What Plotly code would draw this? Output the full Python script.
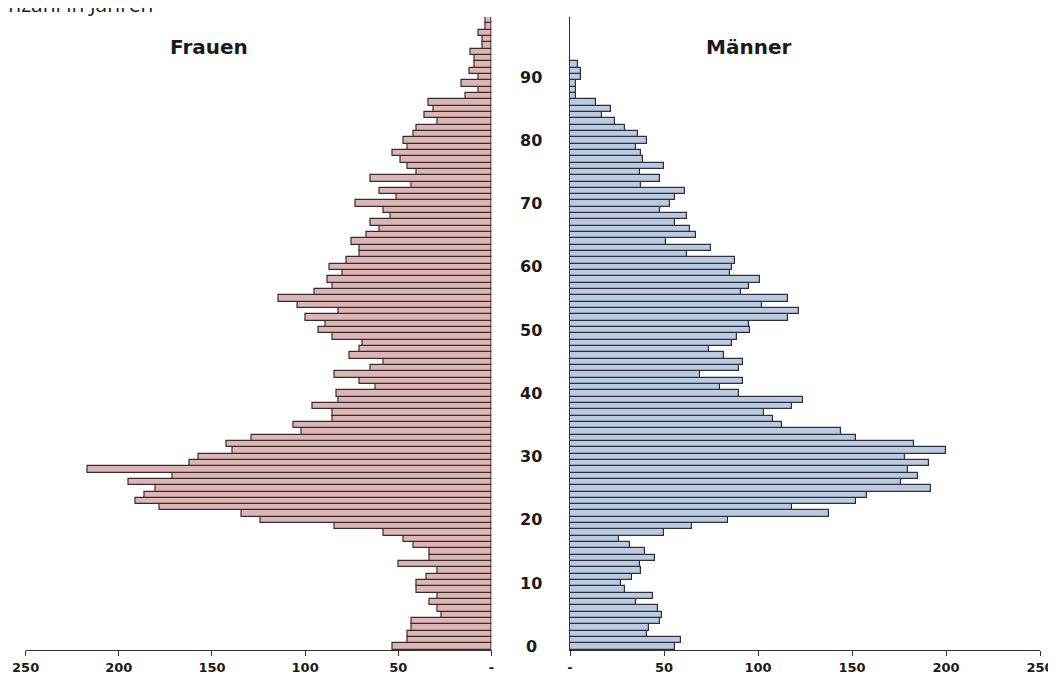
import plotly.graph_objects as go

# Alter 0..99 (Frauen) und 0..92 (Männer)
alter_frauen = list(range(100))
frauen = [53, 45, 45, 43, 43, 27, 29, 33, 29, 40,
          40, 35, 29, 50, 33, 33, 42, 47, 58, 84,
          124, 134, 178, 191, 186, 180, 195, 171, 217, 162,
          157, 139, 142, 129, 102, 106, 85, 85, 96, 82,
          83, 62, 71, 84, 65, 58, 76, 71, 69, 85,
          93, 89, 100, 82, 104, 114, 95, 85, 88, 80,
          87, 78, 71, 71, 75, 67, 60, 65, 54, 58,
          73, 51, 60, 43, 65, 40, 45, 49, 53, 45,
          47, 42, 40, 29, 36, 31, 34, 14, 7, 16,
          7, 12, 9, 9, 11, 5, 5, 7, 3, 3]

alter_maenner = list(range(93))
maenner = [56, 59, 41, 42, 48, 49, 47, 35, 44, 29,
           27, 33, 38, 37, 45, 40, 32, 26, 50, 65,
           84, 138, 118, 152, 158, 192, 176, 185, 180, 191,
           178, 200, 183, 152, 144, 113, 108, 103, 118, 124,
           90, 80, 92, 69, 90, 92, 82, 74, 86, 89,
           96, 95, 116, 122, 102, 116, 91, 95, 101, 85,
           86, 88, 62, 75, 51, 67, 64, 56, 62, 48,
           53, 56, 61, 38, 48, 37, 50, 39, 38, 35,
           41, 36, 29, 24, 17, 22, 14, 3, 3, 3,
           6, 6, 4]

alter_labels = [0, 10, 20, 30, 40, 50, 60, 70, 80, 90]
x_ticks = [0, 50, 100, 150, 200, 250]
x_ticktext = ["-", "50", "100", "150", "200", "250"]

W, H = 1056, 682
OFF = 8  # Seitenrand des Browsers
T, B = 16.6 - OFF, 32 + OFF
PH = H - T - B
FONT = "DejaVu Sans"


def px_x(x):
    return (x - OFF) / W


def px_y(y):
    return 1 - (y - OFF - T) / PH


fig = go.Figure()

fig.add_trace(go.Bar(
    x=frauen, y=alter_frauen, orientation="h",
    xaxis="x", yaxis="y",
    marker=dict(color="#dcb6b6", line=dict(color="#3d2b2b", width=1.2)),
    showlegend=False,
))

fig.add_trace(go.Bar(
    x=maenner, y=alter_maenner, orientation="h",
    xaxis="x2", yaxis="y2",
    marker=dict(color="#bbcadf", line=dict(color="#2b3140", width=1.2)),
    showlegend=False,
))

achse_x = dict(
    showline=True, linecolor="#333333", linewidth=1,
    ticks="outside", ticklen=5, tickcolor="#333333",
    tickvals=x_ticks, ticktext=x_ticktext,
    tickfont=dict(family=FONT, size=13, color="#1a1a1a", weight="bold"),
    showgrid=False, zeroline=False, fixedrange=True, automargin=False,
)
achse_y = dict(
    range=[-0.55, 99.5], showticklabels=False, showgrid=False,
    zeroline=False, ticks="", automargin=False,
)

fig.update_layout(
    width=W, height=H,
    margin=dict(l=0, r=0, t=T, b=B, autoexpand=False),
    plot_bgcolor="white", paper_bgcolor="white",
    bargap=0,
    xaxis=dict(achse_x, domain=[px_x(25.6), px_x(491.5)], range=[250, 0], anchor="y"),
    xaxis2=dict(achse_x, domain=[px_x(570), px_x(1040)], range=[0, 250], anchor="y2"),
    yaxis=dict(achse_y, anchor="x", showline=False),
    yaxis2=dict(achse_y, anchor="x2", showline=True, linecolor="#333333", linewidth=1),
)

# Alterslabels in der Mitte
for a in alter_labels:
    fig.add_annotation(
        x=px_x(531), xref="paper", y=a, yref="y2",
        text=str(a), showarrow=False, xanchor="center", yanchor="middle",
        font=dict(family=FONT, size=16, color="#1a1a1a", weight="bold"),
    )

fig.add_annotation(x=px_x(209), xref="paper", y=px_y(47), yref="paper",
                   text="Frauen", showarrow=False, xanchor="center", yanchor="middle",
                   font=dict(family=FONT, size=20, color="#1a1a1a", weight="bold"))
fig.add_annotation(x=px_x(748), xref="paper", y=px_y(47), yref="paper",
                   text="Männer", showarrow=False, xanchor="center", yanchor="middle",
                   font=dict(family=FONT, size=20, color="#1a1a1a", weight="bold"))

# abgeschnittener Titel oben links
fig.add_annotation(x=px_x(-7), xref="paper", y=px_y(20), yref="paper",
                   text="Anzahl in Jahren", showarrow=False, xanchor="left", yanchor="bottom",
                   font=dict(family="Open Sans", size=21, color="#1a1a1a"))

fig.write_html("out.html")
